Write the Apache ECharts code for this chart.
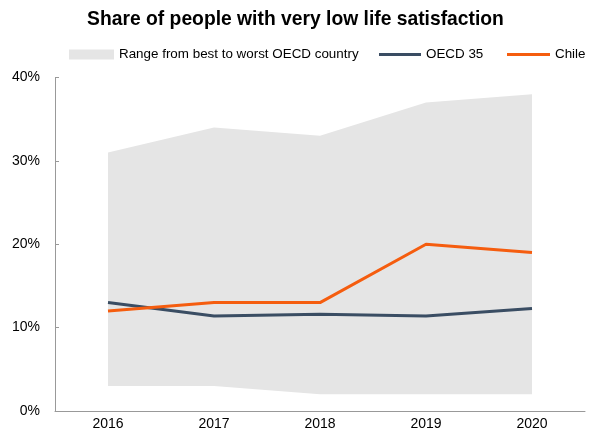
<!DOCTYPE html>
<html>
<head>
<meta charset="utf-8">
<script src="https://cdn.jsdelivr.net/npm/echarts@6/dist/echarts.min.js"></script>
<style>
html,body{margin:0;padding:0;background:#fff;}
#chart{width:591px;height:434px;}
</style>
</head>
<body>
<div id="chart"></div>
<script>
var years = ['2016', '2017', '2018', '2019', '2020'];
var rangeLow = [3, 3, 2, 2, 2];
var rangeHigh = [31, 34, 33, 37, 38];
var oecd35 = [13, 11.4, 11.6, 11.4, 12.3];
var chile = [12, 13, 13, 20, 19];
var yTicks = [0, 10, 20, 30, 40];

var rangeSpan = rangeHigh.map(function (v, i) { return v - rangeLow[i]; });
var font = '"Liberation Sans", Arial, sans-serif';
var legendText = { fontFamily: font, fontSize: 13.4, color: '#000' };
var chart = echarts.init(document.getElementById('chart'));
chart.setOption({
  animation: false,
  backgroundColor: '#fff',
  title: {
    text: 'Share of people with very low life satisfaction',
    left: 'center', top: 5,
    textStyle: { fontFamily: font, fontSize: 19.3, fontWeight: 'bold', color: '#000' }
  },
  legend: [
    { data: ['Range from best to worst OECD country'], left: 69, top: 48, padding: 0, itemWidth: 45, itemHeight: 10, icon: 'rect',
      textStyle: legendText },
    { data: ['OECD 35'], left: 379, top: 48, padding: 0, itemWidth: 42, itemHeight: 3, icon: 'rect',
      textStyle: legendText },
    { data: ['Chile'], left: 507, top: 48, padding: 0, itemWidth: 43, itemHeight: 3, icon: 'rect',
      textStyle: legendText }
  ],
  grid: { left: 55, right: 6, top: 77.5, bottom: 23, containLabel: false },
  xAxis: {
    type: 'category', data: years, boundaryGap: true,
    axisLine: { lineStyle: { color: '#999', width: 1 } },
    axisTick: { inside: true, length: 5, lineStyle: { color: '#999' } },
    axisLabel: { fontFamily: font, fontSize: 14, color: '#000', margin: 6 }
  },
  yAxis: {
    type: 'value', min: yTicks[0], max: yTicks[yTicks.length - 1], interval: 10,
    axisLine: { show: true, lineStyle: { color: '#999', width: 1 } },
    axisTick: { show: true, inside: true, length: 4, lineStyle: { color: '#999' } },
    splitLine: { show: false },
    axisLabel: { fontFamily: font, fontSize: 14, color: '#000', margin: 15, formatter: '{value}%' }
  },
  series: [
    { name: 'rangeBase', type: 'line', stack: 'range', data: rangeLow, symbol: 'none',
      lineStyle: { width: 0, opacity: 0 }, areaStyle: { opacity: 0 }, silent: true },
    { name: 'Range from best to worst OECD country', type: 'line', stack: 'range', data: rangeSpan, symbol: 'none',
      itemStyle: { color: '#e5e5e5' }, lineStyle: { width: 0, opacity: 0 },
      areaStyle: { color: '#e5e5e5', opacity: 1 } },
    { name: 'OECD 35', type: 'line', data: oecd35, symbol: 'none',
      itemStyle: { color: '#3a4d63' }, lineStyle: { color: '#3a4d63', width: 3 } },
    { name: 'Chile', type: 'line', data: chile, symbol: 'none',
      itemStyle: { color: '#f55d0f' }, lineStyle: { color: '#f55d0f', width: 3 } }
  ]
});
</script>
</body>
</html>
